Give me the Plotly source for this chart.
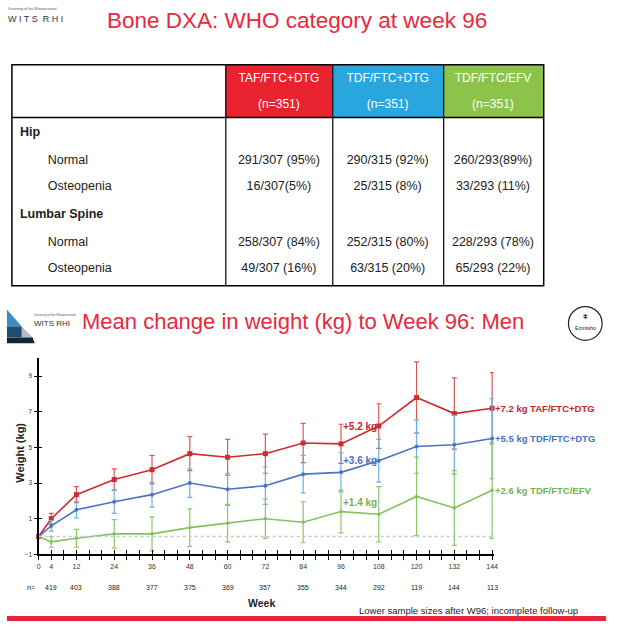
import plotly.graph_objects as go

W, H = 620, 633

def px(x):
    return x / W

def py(y):
    return 1 - y / H

# ---------------- data ----------------
# Table
arm_names = ["TAF/FTC+DTG", "TDF/FTC+DTG", "TDF/FTC/EFV"]
arm_n = ["(n=351)", "(n=351)", "(n=351)"]
row_labels = ["<b>Hip</b>", "Normal", "Osteopenia", "<b>Lumbar Spine</b>", "Normal", "Osteopenia"]
row_indent = [False, True, True, False, True, True]
taf_cells = ["", "291/307 (95%)", "16/307(5%)", "", "258/307 (84%)", "49/307 (16%)"]
tdf_cells = ["", "290/315 (92%)", "25/315 (8%)", "", "252/315 (80%)", "63/315 (20%)"]
efv_cells = ["", "260/293(89%)", "33/293 (11%)", "", "228/293 (78%)", "65/293 (22%)"]

# Chart
weeks = [0, 4, 12, 24, 36, 48, 60, 72, 84, 96, 108, 120, 132, 144]
taf_mean = [0, 1.0, 2.35, 3.2, 3.75, 4.65, 4.45, 4.65, 5.25, 5.2, 6.2, 7.8, 6.9, 7.2]
taf_err = [0, 0.3, 0.45, 0.6, 0.8, 0.95, 1.0, 1.1, 1.1, 1.1, 1.25, 2.0, 2.0, 2.0]
tdf_mean = [0, 0.6, 1.5, 1.95, 2.35, 3.0, 2.65, 2.85, 3.5, 3.6, 4.25, 5.05, 5.15, 5.5]
tdf_err = [0, 0.3, 0.45, 0.65, 0.7, 0.8, 0.9, 1.05, 1.05, 1.1, 1.2, 1.5, 1.65, 2.25]
efv_mean = [0, -0.3, -0.1, 0.15, 0.15, 0.5, 0.75, 1.0, 0.8, 1.4, 1.25, 2.25, 1.6, 2.6]
efv_err = [0, 0.3, 0.5, 0.8, 0.95, 1.05, 1.05, 1.1, 1.15, 1.2, 1.55, 2.2, 2.1, 2.7]
n_weeks = [4, 12, 24, 36, 48, 60, 72, 84, 96, 108, 120, 132, 144]
n_values = [419, 403, 388, 377, 375, 369, 357, 355, 344, 292, 119, 144, 113]
y_ticks = [-1, 1, 3, 5, 7, 9]
series_names = ["TAF/FTC+DTG", "TDF/FTC+DTG", "TDF/FTC/EFV"]
w96_labels = ["+5.2 kg", "+3.6 kg", "+1.4 kg"]
w96_label_y = [6.2, 4.25, 1.9]

RED = "#e8283c"
C_TAF, C_TAF_E = "#d12a30", "#d9585a"
C_TDF, C_TDF_E = "#4a73c6", "#6ab2e2"
C_EFV, C_EFV_E = "#86c25c", "#8cc66a"
LBL = ["#c9252c", "#4a70c2", "#76b346"]

fig = go.Figure()

# ---------------- table ----------------
NB = "\u00a0"
first_col = [(NB * 8 + t) if ind else t for t, ind in zip(row_labels, row_indent)]

def nowrap(col):
    return [s.replace(" ", NB) for s in col]

header_vals = [["", ""]] + [[a, n] for a, n in zip(arm_names, arm_n)]
fig.add_trace(go.Table(
    domain=dict(x=[px(10), px(547)], y=[py(300), py(65)]),
    columnwidth=[216, 108, 112, 101],
    header=dict(
        values=header_vals,
        fill_color=["white", "#e8232f", "#2aa6de", "#8cc34b"],
        font=dict(color="white", size=12, family="Liberation Sans"),
        align="center",
        height=26,
        line=dict(color="rgba(0,0,0,0)", width=0),
    ),
    cells=dict(
        values=[first_col, nowrap(taf_cells), nowrap(tdf_cells), nowrap(efv_cells)],
        fill_color="white",
        font=dict(color="#222222", size=12.5, family="Liberation Sans"),
        align=["left", "center", "center", "center"],
        height=26,
        line=dict(color="white", width=0),
    ),
))

shapes = []
# table borders
shapes.append(dict(type="rect", xref="paper", yref="paper", x0=px(10), x1=px(547),
                   y0=py(287), y1=py(65), line=dict(color="black", width=1.5)))
shapes.append(dict(type="line", xref="paper", yref="paper", x0=px(10), x1=px(547),
                   y0=py(118), y1=py(118), line=dict(color="black", width=1.5)))
for xc in [226, 334, 446]:
    shapes.append(dict(type="line", xref="paper", yref="paper", x0=px(xc), x1=px(xc),
                       y0=py(287), y1=py(65), line=dict(color="black", width=1.2)))

# ---------------- chart traces ----------------
for name, mean, err, c, ce, sym, ms in [
    (series_names[0], taf_mean, taf_err, C_TAF, C_TAF_E, "square", 5),
    (series_names[1], tdf_mean, tdf_err, C_TDF, C_TDF_E, "circle", 4),
    (series_names[2], efv_mean, efv_err, C_EFV, C_EFV_E, "circle", 3.5),
]:
    fig.add_trace(go.Scatter(
        x=weeks, y=mean, name=name, mode="lines+markers",
        line=dict(color=c, width=1.6),
        marker=dict(color=c, symbol=sym, size=ms),
        error_y=dict(type="data", array=err, visible=True, color=ce, thickness=1.2, width=2.5),
        cliponaxis=False, showlegend=False,
        xaxis="x", yaxis="y",
    ))

# zero baseline (on overlay axes to draw the inner tick halves)
fig.add_trace(go.Scatter(
    x=[weeks[0], weeks[-1]], y=[0, 0], mode="lines",
    line=dict(color="#c8c8c8", width=1.5, dash="dot"),
    showlegend=False, xaxis="x2", yaxis="y2", hoverinfo="skip",
))

xdom = [px(37), px(37 + 144.5 * 3.18)]
ydom = [py(557), py(360)]
xr = [0, 144.5]
yr = [-1, 10]
xt = list(range(0, 145, 4))
xtt = [str(v) if v in weeks else "" for v in xt]

fig.update_layout(
    width=W, height=H,
    margin=dict(l=0, r=0, t=0, b=0),
    paper_bgcolor="white", plot_bgcolor="rgba(0,0,0,0)",
    font=dict(family="Liberation Sans", color="#222222"),
    xaxis=dict(domain=xdom, range=xr, tickmode="array", tickvals=xt, ticktext=xtt,
               ticks="outside", ticklen=4, tickwidth=1.4, tickcolor="black",
               showline=True, linecolor="black", linewidth=2.2,
               showgrid=False, zeroline=False, anchor="y",
               tickfont=dict(size=7, color="#333333")),
    yaxis=dict(domain=ydom, range=yr, tickmode="array", tickvals=y_ticks,
               ticks="outside", ticklen=3, tickwidth=1.4, tickcolor="black",
               showline=True, linecolor="black", linewidth=2.2,
               showgrid=False, zeroline=False, anchor="x",
               tickfont=dict(size=6.5, color="#333333")),
    xaxis2=dict(overlaying="x", anchor="y2", range=xr, tickmode="array", tickvals=xt,
                ticks="inside", ticklen=4, tickwidth=1.4, tickcolor="black",
                showticklabels=False, showline=False, showgrid=False, zeroline=False),
    yaxis2=dict(overlaying="y", anchor="x2", range=yr, tickmode="array", tickvals=y_ticks,
                ticks="inside", ticklen=3, tickwidth=1.4, tickcolor="black",
                showticklabels=False, showline=False, showgrid=False, zeroline=False),
)

ann = []
# titles
ann.append(dict(text="Bone DXA: WHO category at week 96", x=px(298), y=py(21), xref="paper", yref="paper",
                showarrow=False, font=dict(size=22.5, color=RED), xanchor="center", yanchor="middle"))
ann.append(dict(text="Mean change in weight (kg) to Week 96: Men", x=px(304), y=py(323), xref="paper", yref="paper",
                showarrow=False, font=dict(size=22, color=RED), xanchor="center", yanchor="middle"))
# logos text
ann.append(dict(text="University of the Witwatersrand", x=px(4), y=py(9), xref="paper", yref="paper",
                showarrow=False, font=dict(size=3.5, color="#555555"), xanchor="left", yanchor="middle"))
ann.append(dict(text="W I T S  R H I", x=px(4), y=py(19), xref="paper", yref="paper",
                showarrow=False, font=dict(size=9, color="#333333"), xanchor="left", yanchor="middle"))
ann.append(dict(text="University of the Witwatersrand", x=px(30), y=py(316), xref="paper", yref="paper",
                showarrow=False, font=dict(size=3, color="#555555"), xanchor="left", yanchor="middle"))
ann.append(dict(text="WITS RHI", x=px(30), y=py(325), xref="paper", yref="paper",
                showarrow=False, font=dict(size=8, color="#333333"), xanchor="left", yanchor="middle"))
ann.append(dict(text="Ezintsho", x=px(589), y=py(330), xref="paper", yref="paper",
                showarrow=False, font=dict(size=5.5, color="#222222"), xanchor="center", yanchor="middle"))
ann.append(dict(text="<b>ǂ</b>", x=px(589), y=py(318), xref="paper", yref="paper",
                showarrow=False, font=dict(size=8, color="#222222"), xanchor="center", yanchor="middle"))

# axis title & captions
ann.append(dict(text="<b>Weight (kg)</b>", x=px(18), y=py(455), xref="paper", yref="paper", textangle=-90,
                showarrow=False, font=dict(size=11, color="#222222"), xanchor="center", yanchor="middle"))
ann.append(dict(text="<b>Week</b>", x=px(262), y=py(606), xref="paper", yref="paper",
                showarrow=False, font=dict(size=10.5, color="#222222"), xanchor="center", yanchor="middle"))
ann.append(dict(text="Lower sample sizes after W96; incomplete follow-up", x=px(471), y=py(613),
                xref="paper", yref="paper", showarrow=False, font=dict(size=9.5, color="#222222"),
                xanchor="center", yanchor="middle"))
ann.append(dict(text="n=", x=px(29), y=py(590), xref="paper", yref="paper",
                showarrow=False, font=dict(size=7, color="#222222"), xanchor="center", yanchor="middle"))
for wk, n in zip(n_weeks, n_values):
    ann.append(dict(text=str(n), x=wk, y=py(590), xref="x", yref="paper",
                    showarrow=False, font=dict(size=7, color="#222222"), xanchor="center", yanchor="middle"))

# series end labels
for name, mean, col in zip(series_names, [taf_mean, tdf_mean, efv_mean], LBL):
    ann.append(dict(text=f"<b>+{mean[-1]:.1f} kg {name}</b>", x=weeks[-1], y=mean[-1], xref="x", yref="y",
                    xshift=1, showarrow=False, font=dict(size=9.5, color=col),
                    xanchor="left", yanchor="middle"))
# week 96 labels
for lab, ly, col in zip(w96_labels, w96_label_y, LBL):
    ann.append(dict(text=f"<b>{lab}</b>", x=96, y=ly, xref="x", yref="y",
                    showarrow=False, font=dict(size=10, color=col), xanchor="left", yanchor="middle"))

# decorative shapes: logo, ezintsho circle, bottom bar
shapes.append(dict(type="path", xref="paper", yref="paper",
                   path=f"M {px(5)} {py(311)} L {px(5)} {py(328)} L {px(20)} {py(328)} Z",
                   fillcolor="#3c8ec0", line=dict(width=0)))
shapes.append(dict(type="path", xref="paper", yref="paper",
                   path=f"M {px(5)} {py(328)} L {px(5)} {py(339)} L {px(20)} {py(339)} L {px(20)} {py(328)} Z",
                   fillcolor="#1f4e6e", line=dict(width=0)))
shapes.append(dict(type="path", xref="paper", yref="paper",
                   path=f"M {px(20)} {py(328)} L {px(20)} {py(339)} L {px(31)} {py(339)} Z",
                   fillcolor="#b8bcc0", line=dict(width=0)))
shapes.append(dict(type="path", xref="paper", yref="paper",
                   path=f"M {px(5)} {py(339)} L {px(5)} {py(345)} L {px(33)} {py(345)} L {px(31)} {py(339)} Z",
                   fillcolor="#10283a", line=dict(width=0)))
shapes.append(dict(type="circle", xref="paper", yref="paper",
                   x0=px(572), x1=px(606), y0=py(342), y1=py(308),
                   line=dict(color="#222222", width=1.2)))
shapes.append(dict(type="rect", xref="paper", yref="paper",
                   x0=px(5), x1=px(610), y0=py(624), y1=py(619),
                   fillcolor="#e8233c", line=dict(width=0)))

fig.update_layout(annotations=ann, shapes=shapes)
fig.write_html("out.html", config={"displayModeBar": False},
               post_script="document.body.style.margin='0px';")
